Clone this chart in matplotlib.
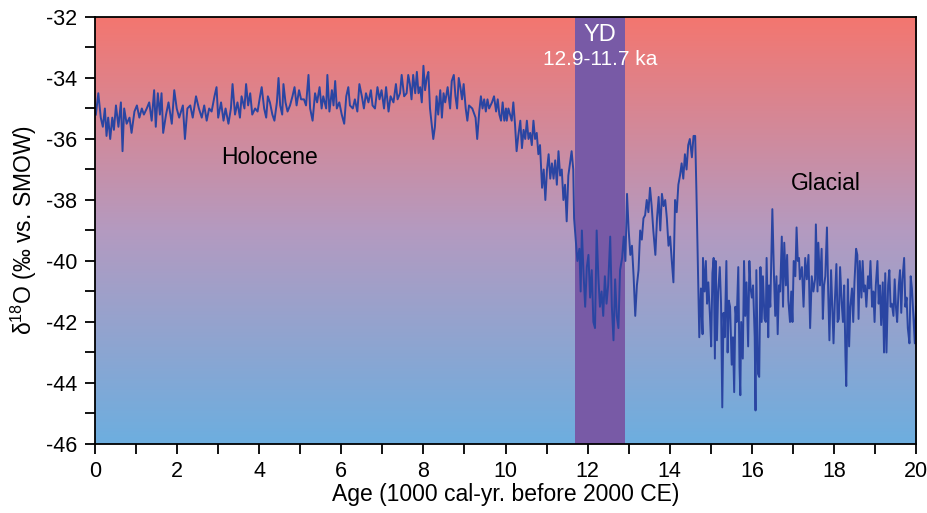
import numpy as np
import matplotlib
matplotlib.use("Agg")
import matplotlib.pyplot as plt
from matplotlib.ticker import MultipleLocator
from matplotlib.colors import LinearSegmentedColormap

plt.rcParams['font.family'] = ['Liberation Sans', 'DejaVu Sans']
plt.rcParams['axes.unicode_minus'] = False

# ---- data (ages in ka, d18O in permil) ----
holocene_age = [0.02, 0.08, 0.14, 0.19, 0.24, 0.28, 0.32, 0.37, 0.42, 0.46, 0.51, 0.57, 0.63, 0.67, 0.71,
                0.77, 0.84, 0.89, 0.96, 1.02, 1.08, 1.14, 1.19, 1.26, 1.32, 1.38, 1.44, 1.48, 1.53, 1.58,
                1.62, 1.66, 1.73, 1.79, 1.87, 1.93, 1.99, 2.05, 2.14, 2.19, 2.25, 2.32, 2.38, 2.46, 2.53,
                2.60, 2.66, 2.72, 2.78, 2.84, 2.91, 2.96, 3.00, 3.07, 3.13, 3.18, 3.25, 3.31, 3.35, 3.41,
                3.47, 3.53, 3.57, 3.64, 3.68, 3.73, 3.78, 3.83, 3.90, 3.96, 4.02, 4.06, 4.12, 4.17, 4.21,
                4.26, 4.32, 4.37, 4.43, 4.47, 4.51, 4.56, 4.59, 4.64, 4.69, 4.75, 4.81, 4.86, 4.91, 4.97,
                5.02, 5.09, 5.14, 5.20, 5.24, 5.30, 5.36, 5.41, 5.47, 5.52, 5.56, 5.63, 5.66, 5.71, 5.77,
                5.81, 5.85, 5.89, 5.95, 6.01, 6.07, 6.12, 6.17, 6.21, 6.28, 6.33, 6.39, 6.44, 6.50, 6.55,
                6.60, 6.66, 6.72, 6.76, 6.82, 6.88, 6.93, 6.98, 7.04, 7.09, 7.15, 7.20, 7.27, 7.33, 7.37,
                7.43, 7.47, 7.53, 7.59, 7.63, 7.67, 7.71, 7.75, 7.80, 7.84, 7.88, 7.92, 7.96, 8.00, 8.04,
                8.08, 8.12, 8.16, 8.20, 8.24, 8.28, 8.32, 8.36, 8.41, 8.45, 8.49, 8.53, 8.59, 8.65, 8.69,
                8.74, 8.78, 8.82, 8.86, 8.90, 8.94, 8.98, 9.03, 9.07, 9.11, 9.19, 9.27, 9.31, 9.36, 9.40,
                9.44, 9.48, 9.52, 9.56, 9.60, 9.67, 9.72, 9.77, 9.81, 9.85, 9.89, 9.93, 9.97, 10.01, 10.03,
                10.07, 10.11, 10.15, 10.19, 10.23, 10.27, 10.31, 10.36, 10.40, 10.44, 10.48, 10.52, 10.56,
                10.60, 10.64, 10.68, 10.72, 10.76, 10.80, 10.84, 10.89, 10.93, 10.97, 11.01, 11.05, 11.09,
                11.13, 11.17, 11.21, 11.25, 11.29, 11.33, 11.37, 11.41, 11.45, 11.49, 11.53, 11.57, 11.61,
                11.65]
holocene_d18o = [-35.2, -34.5, -35.3, -35.6, -35.0, -35.9, -35.3, -36.0, -35.3, -35.7, -34.9, -35.6, -34.8, -36.4, -35.0,
                 -35.5, -35.3, -35.8, -35.1, -34.9, -35.3, -35.0, -35.2, -35.0, -34.8, -35.4, -34.4, -35.6, -34.5, -35.2,
                 -34.5, -35.8, -35.2, -34.8, -35.5, -34.4, -35.0, -35.3, -34.9, -36.0, -35.0, -34.9, -35.3, -34.6, -35.0,
                 -35.3, -34.9, -35.4, -35.0, -35.1, -34.6, -34.3, -35.3, -34.8, -35.4, -35.0, -35.5, -35.0, -34.2, -35.2,
                 -34.8, -35.3, -34.6, -35.0, -34.2, -34.9, -34.5, -35.2, -35.0, -35.1, -34.6, -34.3, -35.0, -35.3, -34.6,
                 -34.8, -35.2, -35.4, -34.8, -34.0, -34.9, -35.2, -34.2, -34.8, -35.1, -34.9, -34.6, -34.3, -34.9, -34.4,
                 -34.7, -34.7, -34.9, -33.9, -35.0, -35.4, -34.5, -34.8, -34.3, -35.0, -34.6, -35.0, -33.9, -35.1, -34.4,
                 -34.9, -34.1, -35.0, -34.8, -35.2, -35.5, -34.6, -34.3, -34.9, -35.0, -34.7, -35.1, -34.2, -34.6, -35.0,
                 -34.5, -34.8, -34.4, -34.9, -35.0, -34.3, -34.7, -34.4, -35.0, -34.3, -35.1, -34.6, -34.8, -34.2, -34.7,
                 -34.5, -33.9, -34.6, -34.5, -33.9, -34.2, -34.7, -33.9, -34.5, -33.8, -34.5, -34.3, -34.8, -33.6, -34.4,
                 -34.0, -33.8, -35.0, -35.5, -36.0, -35.6, -34.6, -35.2, -34.4, -35.3, -34.5, -34.8, -34.3, -35.0, -34.1,
                 -33.9, -34.6, -35.0, -34.0, -34.3, -34.7, -34.2, -35.0, -35.4, -34.9, -35.0, -35.3, -36.0, -35.1, -34.6,
                 -35.0, -34.7, -35.1, -34.7, -35.0, -34.8, -34.6, -35.1, -34.7, -35.2, -35.4, -34.8, -35.4, -35.0, -35.4,
                 -35.0, -35.2, -35.4, -34.8, -35.5, -36.4, -35.9, -35.4, -36.3, -35.7, -36.0, -35.4, -36.0,
                 -35.8, -36.2, -35.4, -36.0, -35.8, -36.5, -36.2, -37.6, -37.0, -38.0, -37.0, -36.5, -37.3,
                 -36.8, -37.3, -36.7, -37.5, -36.4, -37.2, -37.0, -38.0, -37.5, -38.7, -37.2, -36.8, -36.4,
                 -37.0]

yd_age = [11.67, 11.72, 11.75, 11.80, 11.83, 11.86, 11.90, 11.94, 11.98, 12.02, 12.06, 12.10, 12.14, 12.18,
          12.22, 12.26, 12.30, 12.34, 12.38, 12.42, 12.46, 12.50, 12.55, 12.59, 12.63, 12.67, 12.71, 12.75,
          12.79, 12.84, 12.88]
yd_d18o = [-38.6, -39.5, -40.0, -39.6, -41.0, -39.0, -40.4, -41.5, -40.2, -39.8, -41.2, -40.3, -42.0, -42.2,
           -39.0, -40.5, -41.5, -41.0, -41.8, -40.5, -41.4, -40.8, -39.2, -41.5, -42.6, -40.6, -41.8, -42.2,
           -40.3, -39.9, -39.2]

ba_age = [12.92, 12.96, 13.00, 13.04, 13.08, 13.12, 13.16, 13.20, 13.24, 13.28, 13.32, 13.36, 13.40, 13.44,
          13.48, 13.52, 13.56, 13.60, 13.65, 13.69, 13.73, 13.77, 13.81, 13.85, 13.89, 13.93, 13.97, 14.01,
          14.05, 14.09, 14.13, 14.17, 14.21, 14.25, 14.29, 14.33, 14.37, 14.41, 14.45, 14.49, 14.54, 14.58,
          14.62]
ba_d18o = [-40.0, -37.8, -39.0, -39.8, -39.5, -40.5, -41.8, -40.8, -40.3, -39.0, -39.3, -38.6, -38.5, -38.0,
           -38.4, -37.6, -38.2, -39.0, -39.8, -38.6, -37.9, -39.0, -37.8, -38.2, -38.0, -38.6, -39.5, -39.2,
           -40.0, -40.7, -38.0, -38.4, -37.5, -37.2, -36.8, -37.3, -36.5, -37.0, -36.2, -36.0, -36.6, -35.9,
           -35.9]

glacial_age = [14.65, 14.69, 14.72, 14.76, 14.80, 14.81, 14.85, 14.88, 14.91, 14.94, 14.98, 15.01, 15.04, 15.07,
               15.10, 15.12, 15.15, 15.18, 15.22, 15.25, 15.28, 15.31, 15.34, 15.38, 15.41, 15.44, 15.47, 15.51,
               15.54, 15.57, 15.60, 15.63, 15.67, 15.70, 15.72, 15.74, 15.78, 15.81, 15.84, 15.87, 15.91, 15.94,
               15.97, 16.00, 16.03, 16.07, 16.09, 16.11, 16.15, 16.18, 16.21, 16.24, 16.27, 16.31, 16.34, 16.36,
               16.40, 16.42, 16.45, 16.49, 16.50, 16.54, 16.57, 16.60, 16.63, 16.66, 16.69, 16.73, 16.76, 16.79,
               16.83, 16.86, 16.89, 16.93, 16.96, 16.99, 17.02, 17.06, 17.09, 17.12, 17.15, 17.17, 17.22, 17.26,
               17.30, 17.34, 17.38, 17.42, 17.46, 17.50, 17.54, 17.56, 17.60, 17.62, 17.66, 17.70, 17.73, 17.76,
               17.79, 17.83, 17.86, 17.89, 17.93, 17.96, 17.99, 18.02, 18.06, 18.09, 18.12, 18.15, 18.19, 18.22,
               18.25, 18.28, 18.30, 18.34, 18.37, 18.40, 18.44, 18.47, 18.50, 18.54, 18.57, 18.60, 18.63, 18.67,
               18.70, 18.73, 18.76, 18.79, 18.83, 18.86, 18.89, 18.93, 18.96, 18.99, 19.02, 19.06, 19.09, 19.12,
               19.15, 19.19, 19.22, 19.25, 19.28, 19.32, 19.35, 19.38, 19.41, 19.45, 19.48, 19.51, 19.54, 19.58,
               19.61, 19.64, 19.67, 19.71, 19.74, 19.77, 19.80, 19.84, 19.87, 19.90, 19.93, 19.97, 20.0]
glacial_d18o = [-37.7, -40.5, -42.5, -40.9, -42.4, -39.9, -41.0, -40.0, -41.4, -40.7, -41.8, -42.8, -40.4, -39.9,
                -43.2, -40.0, -42.6, -41.0, -40.2, -41.4, -44.8, -41.7, -42.5, -40.0, -43.0, -41.3, -41.5, -43.4,
                -42.5, -44.3, -41.5, -42.0, -40.2, -43.5, -44.4, -42.0, -43.2, -40.0, -41.8, -40.7, -42.8, -40.0,
                -40.9, -41.2, -40.8, -42.5, -44.9, -40.3, -43.7, -43.8, -40.2, -42.0, -40.5, -41.9, -42.0, -39.9,
                -42.5, -40.8, -41.5, -39.0, -38.3, -40.5, -41.8, -40.5, -42.4, -40.8, -41.0, -39.2, -41.5, -39.4,
                -40.8, -39.8, -41.3, -42.0, -41.0, -42.0, -40.0, -40.5, -38.9, -40.0, -39.9, -40.6, -40.2, -41.5,
                -39.9, -40.6, -39.8, -42.2, -40.5, -41.0, -40.6, -38.8, -41.0, -39.4, -40.8, -39.6, -41.9, -40.8,
                -40.5, -38.9, -41.0, -42.6, -40.3, -41.5, -42.7, -41.4, -40.1, -42.0, -41.9, -40.2, -41.4, -42.0,
                -40.8, -43.1, -44.1, -40.6, -42.8, -41.5, -40.9, -42.0, -40.7, -39.6, -39.8, -41.9, -40.0, -41.2,
                -40.0, -41.0, -40.8, -41.5, -40.5, -40.9, -40.0, -41.5, -41.0, -42.0, -40.8, -40.0, -41.4, -40.8,
                -42.1, -40.7, -43.0, -40.4, -43.0, -40.8, -40.3, -41.5, -41.4, -41.8, -40.6, -41.5, -42.0, -40.8,
                -40.3, -41.7, -40.6, -39.9, -41.5, -41.2, -42.2, -42.7, -40.5, -40.9, -41.7, -42.7, -41.5]

yd_start, yd_end = 11.7, 12.9

age = np.array(holocene_age + yd_age + ba_age + glacial_age)
d18o = np.array(holocene_d18o + yd_d18o + ba_d18o + glacial_d18o)

fig = plt.figure(figsize=(9.28, 5.13), dpi=100)
ax = fig.add_axes([0.1024, 0.1345, 0.8847, 0.8324])

# vertical background gradient: red at top, blue at bottom
cmap = LinearSegmentedColormap.from_list("bg", ["#6DAEDF", "#B49AC0", "#F4766F"])
grad = np.linspace(0, 1, 256).reshape(-1, 1)
ax.imshow(grad, extent=[0, 20, -46, -32], origin="lower", aspect="auto", cmap=cmap, zorder=0)

ax.axvspan(yd_start, yd_end, color="#785AA6", zorder=1, lw=0)
ax.plot(age, d18o, color="#2A45A2", lw=1.4, zorder=2)

ax.text(12.3, -32.58, "YD", color="white", fontsize=17, ha="center", va="center")
ax.text(12.3, -33.38, "12.9-11.7 ka", color="white", fontsize=15, ha="center", va="center")
ax.text(4.25, -36.6, "Holocene", fontsize=16.5, ha="center", va="center")
ax.text(17.8, -37.45, "Glacial", fontsize=16.5, ha="center", va="center")

ax.set_xlim(0, 20)
ax.set_ylim(-46, -32)
ax.xaxis.set_major_locator(MultipleLocator(2))
ax.xaxis.set_minor_locator(MultipleLocator(1))
ax.yaxis.set_major_locator(MultipleLocator(2))
ax.yaxis.set_minor_locator(MultipleLocator(1))
ax.tick_params(which="both", direction="out", length=7, width=1.3, labelsize=15.5)
ax.tick_params(axis="y", pad=6)
ax.tick_params(axis="x", pad=5)
for s in ax.spines.values():
    s.set_linewidth(1.3)

ax.set_xlabel("Age (1000 cal-yr. before 2000 CE)", fontsize=16.5, labelpad=1)
ax.set_ylabel("δ$^{\\mathregular{18}}$O (‰ vs. SMOW)", fontsize=16.5, labelpad=5)

fig.savefig("out.png", dpi=100)
